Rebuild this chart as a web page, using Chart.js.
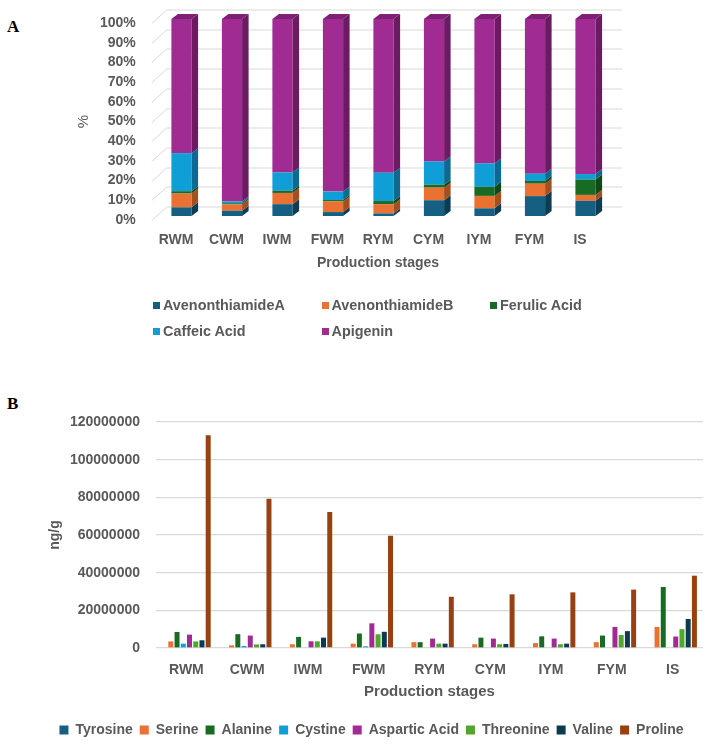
<!DOCTYPE html>
<html><head><meta charset="utf-8">
<script src="https://cdn.jsdelivr.net/npm/chart.js@4.4.1/dist/chart.umd.min.js"></script>
<style>
html,body{margin:0;padding:0;background:#fff;width:708px;height:749px;overflow:hidden;}
#wrap{position:relative;width:708px;height:749px;font-family:"Liberation Sans",Arial,sans-serif;}
.panel{position:absolute;left:7px;font-family:"Liberation Serif","Times New Roman",serif;font-weight:bold;font-size:17px;line-height:20px;color:#000;}
#cA{position:absolute;left:0;top:0;}
#cB{position:absolute;left:0;top:380px;}
.leg{position:absolute;font-weight:bold;font-size:14.4px;color:#595959;white-space:nowrap;line-height:16px;}
.leg i{display:inline-block;width:7px;height:7px;margin-right:3px;vertical-align:1px;}
</style></head><body>
<div id="wrap">
<div class="panel" style="top:17px">A</div>
<div class="panel" style="top:394px">B</div>
<canvas id="cA" width="708" height="300"></canvas>
<div id="legA"></div>
<canvas id="cB" width="708" height="369"></canvas>
</div>
<script>
// ---------- Data: chart A (percent of total, 100% stacked) ----------
const stages = ['RWM','CWM','IWM','FWM','RYM','CYM','IYM','FYM','IS'];
const yTicksA = [0,10,20,30,40,50,60,70,80,90,100];
const avenonthiamideA = [4.4, 2.7, 6.0, 2.0, 1.3, 8.0, 3.9, 10.1, 7.7];
const avenonthiamideB = [7.0, 3.2, 5.7, 5.4, 4.7, 6.4, 6.3, 6.3, 3.0];
const ferulicAcid     = [1.2, 0.6, 1.1, 0.7, 1.6, 1.5, 4.6, 1.4, 7.8];
const caffeicAcid     = [19.3, 0.9, 9.3, 4.3, 14.4, 11.8, 11.9, 3.7, 2.8];
const apigenin        = [68.1, 92.6, 77.9, 87.6, 78.0, 72.3, 73.3, 78.5, 78.7];
const namesA = ['AvenonthiamideA','AvenonthiamideB','Ferulic Acid','Caffeic Acid','Apigenin'];

// ---------- Data: chart B (ng/g) ----------
const yTicksB = [0,20000000,40000000,60000000,80000000,100000000,120000000];
const tyrosine     = [0, 0, 0, 0, 0, 0, 0, 0, 0];
const serine       = [3500000, 1400000, 2000000, 2300000, 3100000, 2000000, 2600000, 3100000, 11200000];
const alanine      = [8500000, 7350000, 5900000, 7700000, 3100000, 5500000, 6200000, 6600000, 32400000];
const cystine      = [2300000, 1100000, 0, 900000, 0, 0, 0, 0, 0];
const asparticAcid = [7100000, 6600000, 3550000, 13100000, 5000000, 5000000, 5000000, 11200000, 6100000];
const threonine    = [3500000, 1900000, 3550000, 7300000, 2300000, 2000000, 2000000, 6900000, 10000000];
const valine       = [4100000, 2000000, 5500000, 8600000, 2300000, 2150000, 2300000, 8950000, 15400000];
const proline      = [113000000, 79300000, 72200000, 59600000, 27200000, 28500000, 29550000, 31000000, 38400000];
const namesB = ['Tyrosine','Serine','Alanine','Cystine','Aspartic Acid','Threonine','Valine','Proline'];

// ---------- Styles ----------
const GREY = '#595959';
const colorsA = ['#156082','#E97132','#196B24','#0F9ED5','#A02B93'];
const sideA   = ['#0D3D53','#A54E1F','#104816','#0A6A90','#6A1B62'];
const topA    = ['#114E6A','#C45E28','#14581D','#0C83B0','#7E2174'];
const colorsB = ['#156082','#E97132','#196B24','#0F9ED5','#A02B93','#4EA72E','#0C3A4E','#984010'];

Chart.defaults.font.family = '"Liberation Sans", Arial, sans-serif';
Chart.defaults.color = GREY;

// ---------- Chart A ----------
const DX = 6.5, DY = -5, SHIFTX = 5.5, SHIFTY = -4;
const threeD = {
  id: 'threeD',
  beforeDatasetsDraw(chart) {
    const {ctx, chartArea: a} = chart;
    const y = chart.scales.y;
    ctx.save();
    ctx.strokeStyle = '#d9d9d9';
    ctx.lineWidth = 1;
    y.ticks.forEach(t => {
      const py = Math.round(y.getPixelForValue(t.value)) + 0.5;
      ctx.beginPath();
      ctx.moveTo(a.left + 1, py);
      ctx.lineTo(a.left + 16, py - 13.5);
      ctx.lineTo(a.right + 17, py - 13.5);
      ctx.stroke();
    });
    ctx.restore();
    ctx.save();
    ctx.translate(SHIFTX, SHIFTY);
  },
  afterDatasetsDraw(chart) {
    const ctx = chart.ctx;
    const n = chart.data.datasets.length;
    chart.data.datasets.forEach((ds, di) => {
      const meta = chart.getDatasetMeta(di);
      meta.data.forEach(bar => {
        const {x, y, base, width} = bar.getProps(['x','y','base','width'], true);
        const l = x - width / 2, r = x + width / 2;
        ctx.fillStyle = sideA[di];
        ctx.beginPath();
        ctx.moveTo(r, y); ctx.lineTo(r + DX, y + DY); ctx.lineTo(r + DX, base + DY); ctx.lineTo(r, base);
        ctx.closePath(); ctx.fill();
        if (di === n - 1) {
          ctx.fillStyle = topA[di];
          ctx.beginPath();
          ctx.moveTo(l, y); ctx.lineTo(l + DX, y + DY); ctx.lineTo(r + DX, y + DY); ctx.lineTo(r, y);
          ctx.closePath(); ctx.fill();
        }
      });
    });
    ctx.restore();
  }
};

const seriesA = [avenonthiamideA, avenonthiamideB, ferulicAcid, caffeicAcid, apigenin];
new Chart(document.getElementById('cA'), {
  type: 'bar',
  data: {
    labels: stages,
    datasets: seriesA.map((d, i) => ({
      label: namesA[i], data: d, backgroundColor: colorsA[i], borderWidth: 0,
      barPercentage: 0.5, categoryPercentage: 0.8, clip: false
    }))
  },
  options: {
    responsive: false, animation: false, devicePixelRatio: 1,
    layout: {padding: {left: 70, right: 102.75, top: 23, bottom: 20}},
    plugins: {legend: {display: false}, tooltip: {enabled: false}},
    scales: {
      x: {
        stacked: true,
        grid: {display: false}, border: {display: false},
        ticks: {padding: 3.6, font: {size: 14, weight: 'bold'}, color: GREY},
        title: {display: true, text: 'Production stages', font: {size: 14, weight: 'bold'}, color: GREY, padding: {top: 0, bottom: 8.6}},
        afterFit: s => { s.height = 60; }
      },
      y: {
        stacked: true, min: 0, max: 100,
        grid: {display: false}, border: {display: false},
        afterBuildTicks: s => { s.ticks = yTicksA.map(v => ({value: v})); },
        ticks: {autoSkip: false, padding: 7, font: {size: 14, weight: 'bold'}, color: GREY, callback: v => v + '%'},
        title: {display: true, text: '%', font: {size: 15}, color: GREY, padding: {top: 4.6, bottom: 0}},
        afterFit: s => { s.width = 80.75; }
      }
    }
  },
  plugins: [threeD]
});

// HTML legend for chart A (three columns)
const legA = document.getElementById('legA');
namesA.forEach((name, i) => {
  const d = document.createElement('div');
  d.className = 'leg';
  d.style.left = (153 + 168.5 * (i % 3)) + 'px';
  d.style.top = (305 + 26 * Math.floor(i / 3) - 8) + 'px';
  d.innerHTML = '<i style="background:' + colorsA[i] + '"></i>' + name;
  legA.appendChild(d);
});

// ---------- Chart B ----------
const seriesB = [tyrosine, serine, alanine, cystine, asparticAcid, threonine, valine, proline];
new Chart(document.getElementById('cB'), {
  type: 'bar',
  data: {
    labels: stages,
    datasets: seriesB.map((d, i) => ({
      label: namesB[i], data: d, backgroundColor: colorsB[i], borderWidth: 0,
      barPercentage: 0.8, categoryPercentage: 0.82
    }))
  },
  options: {
    responsive: false, animation: false, devicePixelRatio: 1,
    layout: {padding: {left: 40, right: 5, top: 42, bottom: 2}},
    plugins: {
      tooltip: {enabled: false},
      legend: {
        position: 'bottom',
        labels: {boxWidth: 9, boxHeight: 9, padding: 7, color: GREY, font: {size: 14, weight: 'bold'}}
      }
    },
    scales: {
      x: {
        grid: {display: false}, border: {display: false},
        ticks: {padding: 6, font: {size: 14, weight: 'bold'}, color: GREY},
        title: {display: true, text: 'Production stages', font: {size: 15, weight: 'bold'}, color: GREY, padding: {top: 0, bottom: 15}},
        afterFit: s => { s.height = 68; }
      },
      y: {
        min: 0, max: 120000000,
        grid: {color: '#d9d9d9', lineWidth: 1.3, drawTicks: false}, border: {display: false},
        afterBuildTicks: s => { s.ticks = yTicksB.map(v => ({value: v})); },
        ticks: {autoSkip: false, padding: 16, font: {size: 14, weight: 'bold'}, color: GREY, callback: v => String(v)},
        title: {display: true, text: 'ng/g', font: {size: 14, weight: 'bold'}, color: GREY, padding: {top: 6.6, bottom: 0}},
        afterFit: s => { s.width = 116; }
      }
    }
  }
});
</script>
</body></html>
